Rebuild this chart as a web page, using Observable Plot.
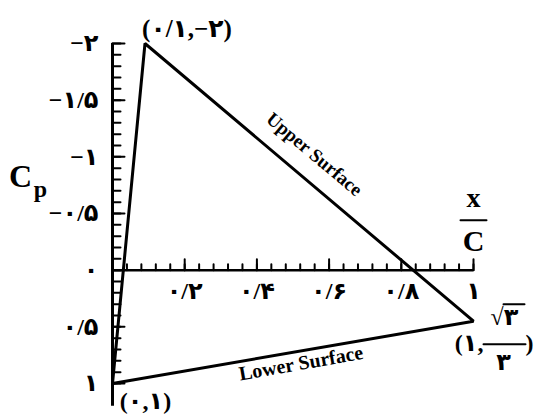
<!DOCTYPE html>
<html><head><meta charset="utf-8">
<script src="https://cdn.jsdelivr.net/npm/d3@7"></script>
<script src="https://cdn.jsdelivr.net/npm/@observablehq/plot@0.6"></script>
<style>html,body{margin:0;padding:0;background:#fff}</style>
</head><body><div id="chart"></div>
<script>
// Chart values
const vertexX = [0, 0.09, 1];          // x/C of the three corners
const vertexCp = [1, -2, 0.45];        // Cp of the three corners
const apexLabel = "(۰/۱,−۲)";
const leadLabel = "(۰,۱)";
const trailLabelLeft = "(۱,";
const trailNumerator = "√۳";
const trailDenominator = "۳";
const trailLabelRight = ")";
const yTickValues = [-2, -1.5, -1, -0.5, 0, 0.5, 1];
const yTickLabels = ["−۲", "−۱/۵", "−۱", "−۰/۵", "۰", "۰/۵", "۱"];
const xTickValues = [0.2, 0.4, 0.6, 0.8, 1];
const xTickLabels = ["۰/۲", "۰/۴", "۰/۶", "۰/۸", "۱"];
const yMinorTicks = d3.range(-20, 11).map(i => i / 10);
const xMinorTicks = d3.range(1, 26).map(i => i * 0.04);
const yAxisExtent = [-2, 1.2];
const upperText = "Upper Surface";
const lowerText = "Lower Surface";

const serif = "'Liberation Serif','DejaVu Serif','DejaVu Sans',serif";
const tri = vertexX.map((x, i) => ({x, cp: vertexCp[i]}));
const closed = [...tri, tri[0]];
const lead = tri[0], apex = tri[1], trail = tri[2];
const upperMid = {x: (apex.x + trail.x) / 2, cp: (apex.cp + trail.cp) / 2};
const lowerMid = {x: (lead.x + trail.x) / 2, cp: (lead.cp + trail.cp) / 2};
const one = (d, txt) => [{...d, t: txt}];
const common = {fill: "black", fontFamily: serif, fontWeight: "bold"};
const tick = {anchor: "start", r: 0, stroke: "black", strokeWidth: 2};

const chart = Plot.plot({
  width: 537, height: 417,
  marginLeft: 112, marginRight: 64, marginTop: 43, marginBottom: 34,
  x: {domain: [0, 1], axis: null},
  y: {domain: [-2, 1], reverse: true},
  style: {background: "white", color: "black"},
  marks: [
    Plot.ruleX([0], {y1: yAxisExtent[0], y2: yAxisExtent[1], strokeWidth: 3}),
    Plot.ruleY([0], {x1: 0, x2: 1, strokeWidth: 2.5}),
    Plot.vector(yMinorTicks, {x: 0, y: d => d, length: 8, rotate: 90, ...tick}),
    Plot.vector(yTickValues, {x: 0, y: d => d, length: 12, rotate: 90, ...tick}),
    Plot.vector(xMinorTicks, {x: d => d, y: 0, length: 6, rotate: 0, ...tick}),
    Plot.vector(xTickValues, {x: d => d, y: 0, length: 11, rotate: 0, ...tick}),
    Plot.axisY(yTickValues, {
      anchor: "left", tickSize: 0, tickPadding: 14, label: null,
      tickFormat: d => yTickLabels[yTickValues.indexOf(d)],
      fontSize: 24, ...common
    }),
    Plot.text(xTickValues, {x: d => d, y: 0, text: (d, i) => xTickLabels[i], dy: 21, fontSize: 24, ...common}),
    Plot.line(closed, {x: "x", y: "cp", stroke: "black", strokeWidth: 3, strokeLinejoin: "miter"}),
    // corner labels
    Plot.text(one(apex, apexLabel), {x: "x", y: "cp", text: "t", dx: 42, dy: -15, fontSize: 25, ...common}),
    Plot.text(one(lead, leadLabel), {x: "x", y: "cp", text: "t", dx: 33, dy: 18, fontSize: 24, ...common}),
    Plot.text(one(trail, trailLabelLeft), {x: "x", y: "cp", text: "t", dx: 10, dy: 22, textAnchor: "end", fontSize: 24, ...common}),
    Plot.text(one(trail, trailNumerator), {x: "x", y: "cp", text: "t", dx: 31, dy: -4, fontSize: 24, ...common}),
    Plot.vector(one(trail, ""), {x: "x", y: "cp", dx: 30, dy: -17, length: 21, rotate: 90, ...tick}),
    Plot.vector(one(trail, ""), {x: "x", y: "cp", dx: 10, dy: 23, length: 42, rotate: 90, ...tick}),
    Plot.text(one(trail, trailDenominator), {x: "x", y: "cp", text: "t", dx: 30, dy: 41, fontSize: 24, ...common}),
    Plot.text(one(trail, trailLabelRight), {x: "x", y: "cp", text: "t", dx: 52, dy: 22, textAnchor: "start", fontSize: 24, ...common}),
    // x / C label
    Plot.text(one({x: 1, cp: 0}, "x"), {x: "x", y: "cp", text: "t", dy: -72, fontSize: 28, ...common}),
    Plot.vector(one({x: 1, cp: 0}, ""), {x: "x", y: "cp", dx: -13, dy: -50, length: 26, rotate: 90, ...tick}),
    Plot.text(one({x: 1, cp: 0}, "C"), {x: "x", y: "cp", text: "t", dy: -29, fontSize: 30, ...common}),
    // Cp label
    Plot.text(["C"], {frameAnchor: "left", textAnchor: "middle", text: d => d, dx: -92, dy: -37, fontSize: 32, ...common}),
    Plot.text(["p"], {frameAnchor: "left", textAnchor: "middle", text: d => d, dx: -72, dy: -24, fontSize: 24, ...common}),
    // surface labels
    Plot.text(one(upperMid, upperText), {x: "x", y: "cp", text: "t", dx: 5, dy: -28, rotate: 40, fontSize: 19, ...common}),
    Plot.text(one(lowerMid, lowerText), {x: "x", y: "cp", text: "t", dx: 8, dy: 11, rotate: -10, fontSize: 20, ...common})
  ]
});
document.getElementById("chart").appendChild(chart);
</script>
</body></html>
